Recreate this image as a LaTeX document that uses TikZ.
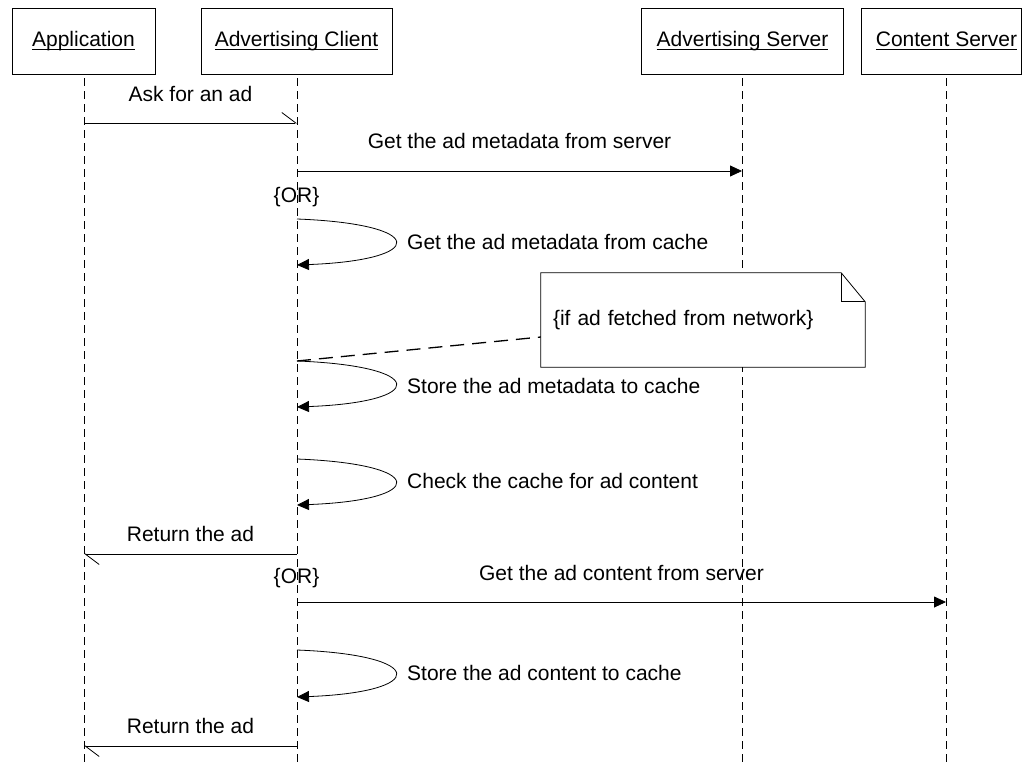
\documentclass[tikz,border=0pt]{standalone}
\usepackage{fontspec}
\setmainfont{Liberation Sans}
\usetikzlibrary{arrows.meta}
% underlined object name, rule just under the baseline
\newcommand\objname[1]{\setbox0\hbox{#1}\rlap{\rule[-3pt]{\wd0}{1pt}}\box0}
\begin{document}
\begin{tikzpicture}[x=1pt,y=-1pt,
  font=\fontsize{21}{25}\selectfont,
  every node/.style={inner sep=0pt},
  actor/.style={draw, line width=0.8pt, minimum height=66pt, text height=15pt, text depth=4pt},
  lifeline/.style={line width=0.8pt, dash pattern=on 8pt off 5pt},
  call/.style={line width=0.8pt, -{Triangle[length=12pt,width=11pt]}},
  signal/.style={line width=0.8pt, -{Straight Barb[left,length=14pt,width=21pt]}},
  msgtext/.style={anchor=base},
  looptext/.style={anchor=base west},
  notebox/.style={fill=white, minimum width=324pt, minimum height=94pt, text width=300pt, align=left, inner xsep=12pt},
  notelink/.style={line width=1.3pt, dash pattern=on 14pt off 8pt}]
\useasboundingbox (0,0) rectangle (1024,763);

% objects
\node[actor, minimum width=143pt] (app) at (83.5,41) {\objname{Application}};
\node[actor, minimum width=191pt] (client) at (296.5,41) {\objname{Advertising Client}};
\node[actor, minimum width=202pt] (adserver) at (742.5,41) {\objname{Advertising Server}};
\node[actor, minimum width=160pt] (content) at (941,41) {\hspace*{11pt}\objname{Content Server}};

% lifelines
\coordinate (appL) at (84,78);
\coordinate (clientL) at (297,78);
\coordinate (adserverL) at (742,78);
\coordinate (contentL) at (946,78);
\foreach \l in {appL,clientL,adserverL,contentL}
  \draw[lifeline] (\l) -- (\l |- 0,763);

% request for an ad
\draw[signal] (appL |- 0,123) -- (clientL |- 0,123);
\node[msgtext] (askt) at (190.5,101) {Ask for an ad};

\draw[call] (clientL |- 0,171) -- (adserverL |- 0,171);
\node[msgtext] (mst) at (519.5,148.5) {Get the ad metadata from server};

\node[msgtext] (or1) at (296.5,202) {\{OR\}};

\draw[call] (clientL |- 0,219) .. controls +(131,5) and +(131,-5) .. (clientL |- 0,265);
\node[looptext] (mct) at (407,249.5) {Get the ad metadata from cache};

% note with folded corner
\node[notebox] (note) at (703,320) {\{if ad fetched from network\}};
\draw[line width=0.8pt] (note.north west) -- ([xshift=-24pt]note.north east)
  -- ([yshift=-29pt]note.north east) -- (note.south east) -- (note.south west) -- cycle;
\draw[line width=0.8pt] ([xshift=-24pt]note.north east) -- ([xshift=-24pt,yshift=-29pt]note.north east)
  -- ([yshift=-29pt]note.north east);
\draw[notelink] (clientL |- 0,361) -- ([yshift=-17pt]note.west);

\draw[call] (clientL |- 0,361) .. controls +(131,5) and +(131,-5) .. (clientL |- 0,407);
\node[looptext] (smt) at (407,393.5) {Store the ad metadata to cache};

\draw[call] (clientL |- 0,459) .. controls +(131,5) and +(131,-5) .. (clientL |- 0,505);
\node[looptext] (cct) at (407,488.5) {Check the cache for ad content};

\draw[signal] (clientL |- 0,554) -- (appL |- 0,554);
\node[msgtext] (ret1) at (190.5,541) {Return the ad};

\node[msgtext] (or2) at (296.5,583) {\{OR\}};

\draw[call] (clientL |- 0,602) -- (contentL |- 0,602);
\node[msgtext] (cst) at (621.5,580.5) {Get the ad content from server};

\draw[call] (clientL |- 0,650) .. controls +(131,5) and +(131,-5) .. (clientL |- 0,697);
\node[looptext] (sct) at (407,680.5) {Store the ad content to cache};

\draw[signal] (clientL |- 0,746) -- (appL |- 0,746);
\node[msgtext] (ret2) at (190.5,733) {Return the ad};
\end{tikzpicture}
\end{document}
